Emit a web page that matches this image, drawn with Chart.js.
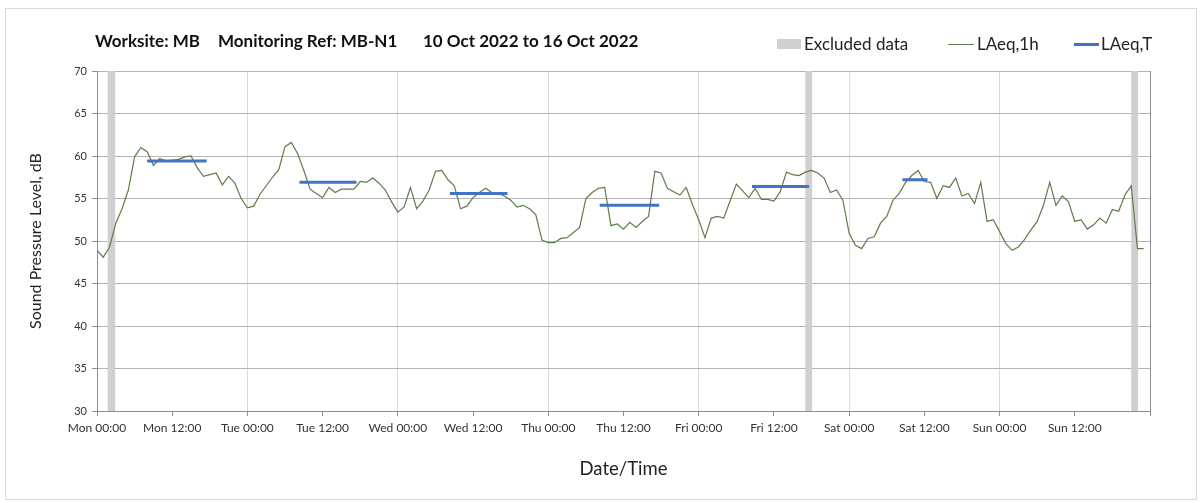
<!DOCTYPE html>
<html>
<head>
<meta charset="utf-8">
<script src="https://cdn.jsdelivr.net/npm/chart.js@4.4.0/dist/chart.umd.min.js"></script>
<style>
  html, body { margin: 0; padding: 0; background: #ffffff; }
  #wrap { position: relative; width: 1203px; height: 503px; overflow: hidden; font-family: Lato, "Open Sans", sans-serif; }
  #frame { position: absolute; left: 5px; top: 8px; width: 1192px; height: 492px; border: 1px solid #d9d9d9; box-sizing: border-box; }
  .ttl { position: absolute; top: 30px; font-weight: bold; font-size: 17px; color: #111; white-space: nowrap; }
  .leg { position: absolute; top: 33px; font-size: 17px; color: #222; white-space: nowrap; }
  .sw { position: absolute; }
  canvas { position: absolute; left: 0; top: 0; }
</style>
</head>
<body>
<div id="wrap">
  <div id="frame"></div>
  <canvas id="c" width="1203" height="503"></canvas>
  <div class="ttl" style="left:95px;">Worksite: MB</div>
  <div class="ttl" style="left:218px;">Monitoring Ref: MB-N1</div>
  <div class="ttl" style="left:423px;">10 Oct 2022 to 16 Oct 2022</div>
  <div class="sw" style="left:777px; top:39px; width:24px; height:10px; background:#d0d0d0;"></div>
  <div class="leg" style="left:804px;">Excluded data</div>
  <div class="sw" style="left:948px; top:44px; width:26px; height:1px; background:#5e7d4a;"></div>
  <div class="leg" style="left:977px;">LAeq,1h</div>
  <div class="sw" style="left:1074px; top:43px; width:25px; height:3px; background:#4472c4;"></div>
  <div class="leg" style="left:1101px;">LAeq,T</div>
</div>
<script>
// ---- Data ----
const dayNames = ['Mon', 'Tue', 'Wed', 'Thu', 'Fri', 'Sat', 'Sun', 'Mon'];
const tickTimes = ['00:00', '12:00'];
const yTickValues = [30, 35, 40, 45, 50, 55, 60, 65, 70];

// Hourly LAeq,1h from Mon 10 Oct 00:00 (hour index 0) to Sun 16 Oct 23:00 (hour 167)
const laeq1hMon = [48.9, 48.1, 49.3, 52.1, 53.8, 56.0, 59.9, 61.0, 60.5, 58.9, 59.7, 59.4, 59.5, 59.6, 59.9, 60.0, 58.6, 57.6, 57.8, 58.0, 56.6, 57.6, 56.8, 55.0];
const laeq1hTue = [53.9, 54.1, 55.5, 56.5, 57.5, 58.4, 61.1, 61.6, 60.3, 58.3, 56.1, 55.6, 55.1, 56.3, 55.7, 56.1, 56.1, 56.1, 57.0, 56.9, 57.4, 56.8, 56.0, 54.6];
const laeq1hWed = [53.4, 54.0, 56.3, 53.8, 54.7, 56.0, 58.2, 58.3, 57.2, 56.5, 53.8, 54.1, 55.1, 55.7, 56.2, 55.7, 55.6, 55.3, 54.8, 54.0, 54.2, 53.8, 53.1, 50.1];
const laeq1hThu = [49.8, 49.8, 50.3, 50.4, 51.0, 51.6, 55.0, 55.7, 56.2, 56.3, 51.8, 52.0, 51.4, 52.2, 51.6, 52.3, 52.9, 58.2, 58.0, 56.2, 55.8, 55.4, 56.3, 54.3];
const laeq1hFri = [52.5, 50.4, 52.7, 52.9, 52.7, 54.7, 56.7, 55.9, 55.1, 56.2, 54.9, 54.9, 54.7, 55.8, 58.1, 57.8, 57.7, 58.1, 58.3, 58.0, 57.4, 55.7, 56.0, 54.8];
const laeq1hSat = [50.9, 49.5, 49.1, 50.3, 50.5, 52.1, 52.9, 54.8, 55.6, 56.9, 57.7, 58.3, 57.0, 56.9, 55.0, 56.5, 56.3, 57.4, 55.3, 55.6, 54.4, 56.9, 52.3, 52.5];
const laeq1hSun = [51.1, 49.7, 48.9, 49.3, 50.2, 51.3, 52.3, 54.2, 56.9, 54.2, 55.3, 54.6, 52.3, 52.5, 51.4, 51.9, 52.7, 52.1, 53.7, 53.5, 55.4, 56.5, 49.1, 49.1];

// LAeq,T periods (hours from Mon 00:00)
const laeqTStart = [8, 32.3, 56.3, 80.2, 104.5, 128.5];
const laeqTEnd   = [17.5, 41.4, 65.5, 89.7, 113.6, 132.5];
const laeqTValue = [59.4, 56.9, 55.6, 54.2, 56.4, 57.2];

// Excluded data periods (hours from Mon 00:00)
const excludedStart = [1.7, 113, 165];
const excludedEnd   = [2.9, 114.1, 166.1];

// ---- Build ----
const laeq1h = [].concat(laeq1hMon, laeq1hTue, laeq1hWed, laeq1hThu, laeq1hFri, laeq1hSat, laeq1hSun);
const lineData = laeq1h.map((v, i) => ({ x: i, y: v }));
const tData = [];
laeqTStart.forEach((s, i) => {
  tData.push({ x: s, y: laeqTValue[i] });
  tData.push({ x: laeqTEnd[i], y: laeqTValue[i] });
  tData.push({ x: laeqTEnd[i], y: null });
});

const excludedPlugin = {
  id: 'excluded',
  beforeDatasetsDraw(chart) {
    const { ctx, scales: { x, y } } = chart;
    ctx.save();
    ctx.fillStyle = '#d0d0d0';
    excludedStart.forEach((s, i) => {
      const x0 = x.getPixelForValue(s);
      const x1 = x.getPixelForValue(excludedEnd[i]);
      const yTop = y.getPixelForValue(y.max);
      const yBot = y.getPixelForValue(y.min);
      ctx.fillRect(x0, yTop, x1 - x0, yBot - yTop);
    });
    ctx.restore();
  }
};

const FONT = 'Lato, "Open Sans", sans-serif';

new Chart(document.getElementById('c'), {
  type: 'line',
  data: {
    datasets: [
      { label: 'LAeq,T', data: tData, borderColor: '#4472c4', borderWidth: 3, pointRadius: 0, spanGaps: false, tension: 0, order: 0 },
      { label: 'LAeq,1h', data: lineData, borderColor: '#5e7d4a', borderWidth: 1.2, pointRadius: 0, tension: 0, order: 1 }
    ]
  },
  options: {
    responsive: false,
    animation: false,
    devicePixelRatio: 1,
    layout: { padding: { top: 71, right: 53, left: 0, bottom: 0 } },
    plugins: { legend: { display: false }, tooltip: { enabled: false }, title: { display: false } },
    scales: {
      x: {
        type: 'linear',
        min: 0,
        max: 168,
        afterFit(scale) { scale.height = 92; },
        afterBuildTicks(scale) {
          const t = [];
          for (let h = 0; h <= 168; h += 12) t.push({ value: h });
          scale.ticks = t;
        },
        ticks: {
          autoSkip: false,
          maxRotation: 0,
          padding: 5,
          color: '#333',
          font: { family: FONT, size: 12 },
          callback(v) {
            if (v >= 168) return '';
            return dayNames[Math.floor(v / 24)] + ' ' + tickTimes[(v % 24) / 12];
          }
        },
        grid: {
          color(ctx) {
            const v = ctx.tick ? ctx.tick.value : 0;
            if (v === 168) return '#8c8c8c';
            return (v % 24 === 0) ? '#d9d9d9' : 'rgba(0,0,0,0)';
          },
          tickColor: '#8c8c8c',
          tickLength: 5,
          drawTicks: true
        },
        border: { color: '#8c8c8c', width: 1 },
        title: { display: true, text: 'Date/Time', color: '#222', font: { family: FONT, size: 18.5 }, padding: { top: 0, bottom: 23 } }
      },
      y: {
        min: 30,
        max: 70,
        afterFit(scale) { scale.width = 97; },
        afterBuildTicks(scale) { scale.ticks = yTickValues.map(v => ({ value: v })); },
        ticks: { padding: 5, color: '#333', font: { family: FONT, size: 11 } },
        grid: { color: '#b3b3b3', tickColor: '#8c8c8c', tickLength: 5, drawTicks: true },
        border: { color: '#8c8c8c', width: 1 },
        title: { display: true, text: 'Sound Pressure Level, dB', color: '#222', font: { family: FONT, size: 16 }, padding: { top: 26, bottom: 0 } }
      }
    }
  },
  plugins: [excludedPlugin]
});
</script>
</body>
</html>
